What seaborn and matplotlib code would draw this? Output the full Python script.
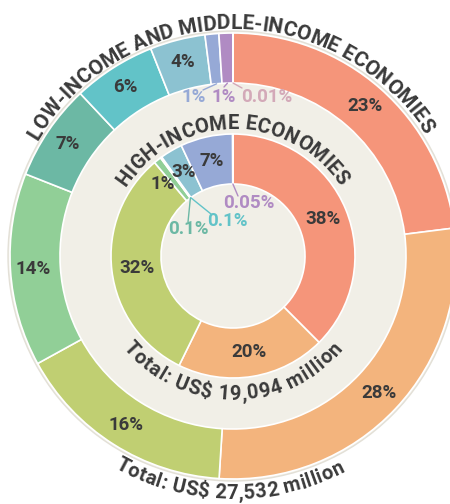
import matplotlib
matplotlib.use("Agg")
import numpy as np
import matplotlib.pyplot as plt
import seaborn as sns
from matplotlib.font_manager import FontProperties

outer_labels = ["23%", "28%", "16%", "14%", "7%", "6%", "4%", "1%", "1%", "0.01%"]
outer_values = [23, 28, 16, 14, 7, 6, 4, 1, 1, 0.01]
inner_labels = ["38%", "20%", "32%", "1%", "0.1%", "0.1%", "3%", "7%", "0.05%"]
inner_values = [38, 20, 32, 1, 0.1, 0.1, 3, 7, 0.05]

outer_title = "LOW-INCOME AND MIDDLE-INCOME ECONOMIES"
inner_title = "HIGH-INCOME ECONOMIES"
outer_total = "Total: US$ 27,532 million"
inner_total = "Total: US$ 19,094 million"

hexes = ["#f5957a", "#f3b47d", "#c0cf72", "#91cf97", "#6cb8a4",
         "#62c3c8", "#8cc2d1", "#96a9d6", "#b08bc3", "#d3a9b8"]

sns.set_theme(style="white")
FONT = ["Roboto", "DejaVu Sans"]
plt.rcParams["font.family"] = FONT
DARK = "#3a3a3a"
BG = "#f1efe7"
CX, CY = 233, 248

palette = sns.color_palette(hexes)

fig = plt.figure(figsize=(4.5, 5.04), dpi=100)
ax = fig.add_axes([0, 0, 1, 1])

ax.add_patch(plt.Circle((CX, CY), 225, facecolor=BG, edgecolor="#e3e0d7", lw=1, zorder=0))

wp = dict(width=50, edgecolor="white", linewidth=1.2)
w_out, _ = ax.pie(outer_values, radius=223, center=(CX, CY), startangle=90,
                  counterclock=False, colors=palette[:len(outer_values)], wedgeprops=wp)
w_in, _ = ax.pie(inner_values, radius=122, center=(CX, CY), startangle=90,
                 counterclock=False, colors=palette[:len(inner_values)], wedgeprops=wp)


def polar(c, r):
    a = np.radians(c)
    return CX + r * np.sin(a), CY + r * np.cos(a)


def mid_compass(w):
    return 90 - (w.theta1 + w.theta2) / 2


# callouts for the thin slices: text offset and leader end, relative to centre
outer_call = {7: ((-39, 159), (-30, 166)), 8: ((-9, 159), (-9, 169)), 9: ((34, 159), (9, 168))}
inner_call = {3: ((-70, 72), None), 4: ((-45, 27), (-45, 34)),
              5: ((-6, 35), (-22, 42)), 8: ((16, 53), (5, 60))}


def label_ring(wedges, labels, r_lab, r_in, calls):
    for i, (w, lab) in enumerate(zip(wedges, labels)):
        c = mid_compass(w)
        if i in calls:
            (tx, ty), lead = calls[i]
            col = DARK if lead is None else hexes[i]
            if lead is not None:
                sx, sy = polar(c, r_in)
                ax.plot([sx, CX + lead[0]], [sy, CY + lead[1]], color=hexes[i], lw=1, zorder=3)
            ax.text(CX + tx, CY + ty, lab, ha="center", va="center", fontsize=13.5,
                    fontweight="bold", color=col, zorder=4)
        else:
            x, y = polar(c, r_lab)
            ax.text(x, y, lab, ha="center", va="center", fontsize=13.5,
                    fontweight="bold", color=DARK, zorder=4)


label_ring(w_out, outer_labels, 200, 173, outer_call)
label_ring(w_in, inner_labels, 97, 72, inner_call)


def arc_text(s, r, c0, c1, size, weight):
    fp = FontProperties(family=FONT, size=size, weight=weight)
    rend = fig.canvas.get_renderer()
    bar = rend.get_text_width_height_descent("||", fp, ismath=False)[0]
    w = np.array([rend.get_text_width_height_descent("|" + ch + "|", fp, ismath=False)[0] - bar
                  for ch in s])
    mids = np.cumsum(w) - w / 2
    span = np.radians(abs(c1 - c0)) * r
    extra = (span - (mids[-1] - mids[0])) / (len(s) - 1)
    pos = mids - mids[0] + extra * np.arange(len(s))
    sign = 1 if c1 > c0 else -1
    for ch, p in zip(s, pos):
        c = c0 + sign * np.degrees(p / r)
        x, y = polar(c, r)
        rot = -c if sign > 0 else 180 - c
        ax.text(x, y, ch, ha="center", va="baseline", rotation=rot, rotation_mode="anchor",
                fontproperties=fp, color=DARK, zorder=5)


arc_text(outer_title, 227, -58, 56, 15, "bold")
arc_text(inner_title, 127, -54, 54, 14.5, "bold")
arc_text(inner_total, 144, 227.7, 132.3, 14.5, "bold")
arc_text(outer_total, 243, 207.8, 153.7, 14.5, "bold")

ax.set_xlim(0, 450)
ax.set_ylim(0, 504)
ax.set_aspect("equal")
ax.axis("off")
fig.savefig("out.png", dpi=100, facecolor="white")
